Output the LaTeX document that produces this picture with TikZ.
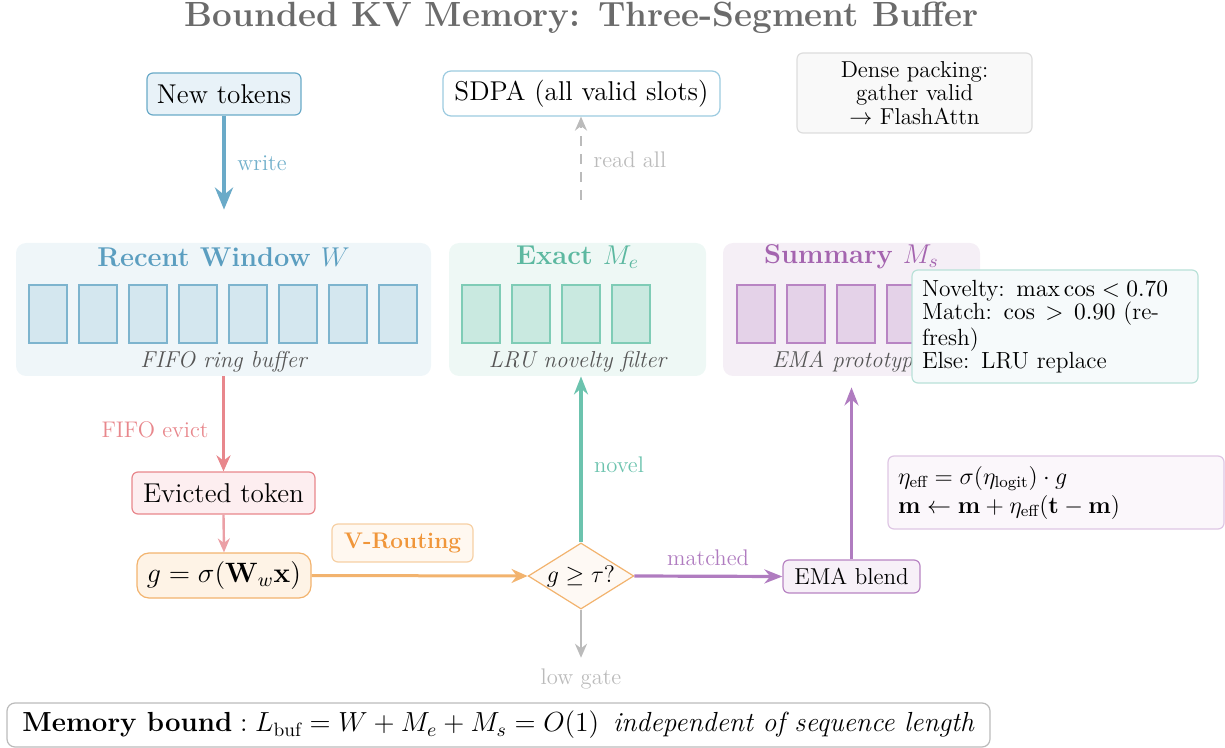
\RequirePackage{fix-cm}
\documentclass[tikz,border=0pt]{standalone}
\usepackage{amsmath}
\usetikzlibrary{arrows.meta,shapes.geometric}
\definecolor{blueD}{HTML}{6AAAC8}
\definecolor{blueT}{HTML}{5B9EC0}
\definecolor{blueL}{HTML}{72B0CB}
\definecolor{newFill}{HTML}{E8F2F8}
\definecolor{pWfill}{HTML}{EFF6F9}
\definecolor{cWfill}{HTML}{D4E7EF}
\definecolor{cWdraw}{HTML}{7DB4CE}
\definecolor{tealD}{HTML}{6CC3AE}
\definecolor{tealT}{HTML}{5CB8A0}
\definecolor{pEfill}{HTML}{EEF8F5}
\definecolor{cEfill}{HTML}{C9E9E0}
\definecolor{cEdraw}{HTML}{7FCCB6}
\definecolor{purD}{HTML}{B07CC0}
\definecolor{purT}{HTML}{A464AF}
\definecolor{pSfill}{HTML}{F5EFF6}
\definecolor{cSfill}{HTML}{E4D2E8}
\definecolor{cSdraw}{HTML}{B884C3}
\definecolor{redD}{HTML}{E8878C}
\definecolor{redFill}{HTML}{FDEEF0}
\definecolor{pinkA}{HTML}{EBA0A6}
\definecolor{orangeD}{HTML}{F2B36E}
\definecolor{gateFill}{HTML}{FEF3E6}
\definecolor{orangeT}{HTML}{F0963A}
\definecolor{vrFill}{HTML}{FFF8F0}
\definecolor{vrDraw}{HTML}{F6D0A4}
\definecolor{diaFill}{HTML}{FEF9F4}
\definecolor{grayA}{HTML}{BBBBBB}
\definecolor{novFill}{HTML}{F6FAFB}
\definecolor{novDraw}{HTML}{B9E1D8}
\definecolor{etaFill}{HTML}{FBF7FB}
\definecolor{etaDraw}{HTML}{DEC6E4}
\definecolor{emaFill}{HTML}{F7F0F8}
\definecolor{sdpaDraw}{HTML}{9CCBE0}
\definecolor{denseFill}{HTML}{F9F9F9}
\definecolor{denseDraw}{HTML}{DDDDDD}
\definecolor{titleG}{HTML}{6B6B6B}
\definecolor{capG}{HTML}{555555}
\begin{document}
\begin{tikzpicture}[x=0.5pt,y=-0.5pt,
  box/.style={draw, rounded corners=3pt, line width=0.6pt, inner sep=0pt, align=center, font=\fontsize{13.6}{16}\selectfont},
  panel/.style={rounded corners=5pt, inner sep=0pt, minimum height=66.5pt},
  ptitle/.style={font=\fontsize{13.6}{16}\selectfont\bfseries},
  pcap/.style={text=capG, font=\fontsize{11.5}{14}\selectfont\itshape},
  cell/.style={line width=1pt, minimum width=19pt, minimum height=29pt, inner sep=0pt},
  lab/.style={font=\fontsize{11.3}{13}\selectfont},
  small/.style={font=\fontsize{11.5}{11.8}\selectfont}
]
\useasboundingbox (0,0) rectangle (1225,748);

% title
\node[text=titleG, font=\fontsize{17.5}{20}\selectfont\bfseries] (title) at (582,18) {Bounded KV Memory: Three-Segment Buffer};

% top boxes
\node[box, draw=blueD, fill=newFill, minimum width=77pt, minimum height=21pt] (new) at (224,94) {New tokens};
\node[box, draw=sdpaDraw, fill=white, rounded corners=4pt, minimum width=138.5pt, minimum height=22.5pt] (sdpa) at (581.5,93.5) {SDPA (all valid slots)};
\node[box, draw=denseDraw, fill=denseFill, small, minimum width=117.5pt, minimum height=40pt] (dense) at (914.5,93) {Dense packing:\\gather valid\\$\rightarrow$ FlashAttn};

% panels
\node[panel, fill=pWfill, minimum width=207.5pt] (pW) at (223.5,309.5) {};
\node[panel, fill=pEfill, minimum width=128.5pt] (pE) at (577.5,309.5) {};
\node[panel, fill=pSfill, minimum width=128.5pt] (pS) at (851.5,309.5) {};

\node[ptitle, text=blueT] (tW) at (223.5,257) {Recent Window $W$};
\node[ptitle, text=tealT] (tE) at (577.5,257) {Exact $M_e$};
\node[ptitle, text=purT] (tS) at (851.5,257) {Summary $M_s$};

\foreach \i in {0,...,7} \node[cell, draw=cWdraw, fill=cWfill] (w\i) at (48+50*\i,314) {};
\foreach \i in {0,...,3} \node[cell, draw=cEdraw, fill=cEfill] (e\i) at (481+50*\i,314) {};
\foreach \i in {0,...,3} \node[cell, draw=cSdraw, fill=cSfill] (s\i) at (756+50*\i,314) {};

\node[pcap] (cW) at (223.5,362) {FIFO ring buffer};
\node[pcap] (cE) at (577.5,362) {LRU novelty filter};
\node[pcap] (cS) at (851.5,362) {EMA prototypes};

% novelty box
\node[draw=novDraw, fill=novFill, rounded corners=3pt, line width=0.6pt, text width=133pt, inner sep=5pt, align=left, font=\fontsize{11.7}{11.7}\selectfont, minimum height=53.5pt] (nov) at (1055,326.5) {Novelty: $\max\cos<0.70$\\Match: $\cos\,>\,0.90$ (re-\\fresh)\\Else: LRU replace};

% lower boxes
\node[box, draw=redD, fill=redFill, minimum width=91.5pt, minimum height=21pt] (evict) at (223.5,493) {Evicted token};
\node[box, draw=orangeD, fill=gateFill, rounded corners=6pt, minimum width=87pt, minimum height=22.5pt, font=\fontsize{14}{16}\selectfont] (gate) at (224,575.5) {$g=\sigma(\mathbf{W}_w\mathbf{x})$};
\node[box, draw=vrDraw, fill=vrFill, minimum width=70.5pt, minimum height=19pt, text=orangeT, font=\fontsize{11.3}{13}\selectfont\bfseries] (vr) at (402.5,543) {V-Routing};
\node[diamond, aspect=1.6, draw=orangeD, fill=diaFill, line width=0.6pt, inner sep=0.3pt, font=\fontsize{12}{14}\selectfont] (dia) at (581,576) {$g\geq\tau$?};
\node[box, draw=cSdraw, fill=emaFill, minimum width=68.5pt, minimum height=16.5pt, font=\fontsize{11.5}{13}\selectfont] (ema) at (851.5,576.5) {EMA blend};
\node[draw=etaDraw, fill=etaFill, rounded corners=3pt, line width=0.6pt, text width=158pt, inner sep=5pt, align=left, font=\fontsize{12}{14.5}\selectfont, minimum height=32.5pt] (eta) at (1056,492.5) {$\eta_{\text{eff}}=\sigma(\eta_{\text{logit}})\cdot g$\\$\mathbf{m}\leftarrow\mathbf{m}+\eta_{\text{eff}}(\mathbf{t}-\mathbf{m})$};

% memory bound
\node[draw=grayA, fill=white, rounded corners=4pt, line width=0.6pt, minimum width=491.5pt, minimum height=22pt, inner sep=0pt, font=\fontsize{13.8}{16}\selectfont] (mem) at (498.5,725) {$\textbf{Memory bound}: L_{\text{buf}}=W+M_e+M_s=O(1)$\enspace\textit{independent of sequence length}};

% labels
\node[lab, text=blueL] (lwrite) at (262,163) {write};
\node[lab, text=grayA] (lread) at (630,160) {read all};
\node[lab, text=redD] (lfifo) at (155,430) {FIFO evict};
\node[lab, text=tealD] (lnovel) at (619,465) {novel};
\node[lab, text=purD] (lmatch) at (708,558) {matched};
\node[lab, text=grayA] (llow) at (581,679) {low gate};
\coordinate (readStart) at (581,200);

% connectors
\draw[blueD, line width=2.1pt, -{Stealth[length=11pt,width=9pt]}, shorten >=16.5pt] (new.south) -- (new.south |- pW.north);
\draw[grayA, line width=1.2pt, dashed, dash pattern=on 5pt off 4pt, -{Stealth[length=7pt,width=6pt]}] (readStart) -- (readStart |- sdpa.south);
\draw[redD, line width=1.5pt, -{Stealth[length=8pt,width=7pt]}] (pW.south) -- (evict.north);
\draw[pinkA, line width=1.2pt, -{Stealth[length=7pt,width=6pt]}] (evict.south) -- (gate.north);
\draw[orangeD, line width=1.5pt, -{Stealth[length=8pt,width=7pt]}] (gate.east) -- (dia.west);
\draw[tealD, line width=1.6pt, -{Stealth[length=9pt,width=7pt]}] (dia.north) -- (dia.north |- pE.south);
\draw[grayA, line width=1.2pt, -{Stealth[length=7pt,width=6pt]}, shorten >=2pt] (dia.south) -- (llow.north);
\draw[purD, line width=1.6pt, -{Stealth[length=9pt,width=7pt]}] (dia.east) -- (ema.west);
\draw[purD, line width=1.6pt, -{Stealth[length=9pt,width=7pt]}, shorten >=5.5pt] (ema.north) -- (ema.north |- pS.south);
\end{tikzpicture}
\end{document}
